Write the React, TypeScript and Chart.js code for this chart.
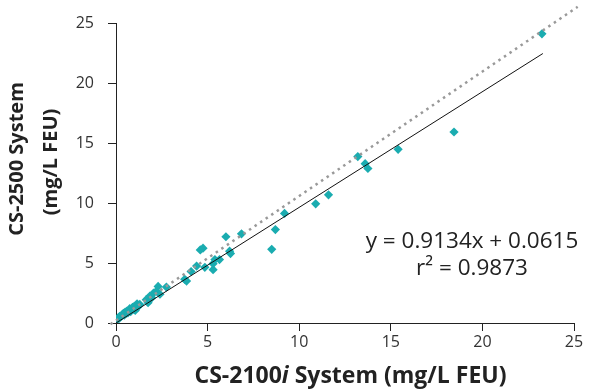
import React, { useEffect, useRef } from "react";
import { Chart, registerables } from "chart.js";

Chart.register(...registerables);

const xValues = [
  0.05, 0.1, 0.15, 0.2, 0.25, 0.3, 0.35, 0.4, 0.45, 0.5, 0.55, 0.6, 0.65, 0.7, 0.75, 0.8, 0.85, 0.9, 0.95, 1.0,
  1.05, 1.1, 1.15, 1.2, 1.3, 1.65, 1.75, 1.85, 1.95, 2.05, 2.2, 2.3, 2.4, 2.75, 3.75, 3.85, 4.1, 4.4, 4.6, 4.75,
  4.85, 5.3, 5.3, 5.4, 5.65, 6.0, 6.2, 6.25, 6.85, 8.5, 8.7, 9.2, 10.9, 11.6, 13.2, 13.6, 13.75, 15.4, 18.45, 23.25,
];
const yValues = [
  0.3, 0.4, 0.35, 0.55, 0.5, 0.6, 0.7, 0.8, 0.65, 0.9, 0.8, 1.0, 0.85, 1.05, 1.2, 0.95, 1.1, 1.3, 1.15, 1.4,
  1.05, 1.25, 1.6, 1.35, 1.55, 1.95, 1.7, 2.25, 2.1, 2.5, 2.65, 3.05, 2.4, 3.0, 3.65, 3.5, 4.3, 4.75, 6.1, 6.25,
  4.65, 4.45, 4.95, 5.3, 5.3, 7.2, 6.0, 5.8, 7.45, 6.15, 7.8, 9.15, 9.95, 10.7, 13.9, 13.3, 12.9, 14.5, 15.95, 24.15,
];
const fitX = [0, 23.3];
const fitY = [0.0, 22.5];
const refX = [-0.3, 25.2];
const refY = [-0.1, 26.4];
const axisMin = 0;
const axisMax = 25;
const axisStep = 5;
const equationText = "y = 0.9134x + 0.0615";
const r2Text = "r² = 0.9873";
const xTitleParts = ["CS-2100", "i", " System (mg/L FEU)"];
const yTitleLines = ["CS-2500 System", "(mg/L FEU)"];

const FONT = "'Open Sans', 'Noto Sans', sans-serif";
const TEXT = "#222";

const textPlugin = {
  id: "textPlugin",
  afterDraw(chart: any) {
    const ctx = chart.ctx as CanvasRenderingContext2D;
    ctx.save();
    ctx.fillStyle = TEXT;
    // annotation
    ctx.font = `22.5px ${FONT}`;
    ctx.textAlign = "center";
    ctx.textBaseline = "alphabetic";
    ctx.fillText(equationText, 472, 248);
    ctx.fillText(r2Text, 472, 275);
    // x title
    const fonts = [`bold 23px ${FONT}`, `italic bold 23px ${FONT}`, `bold 23px ${FONT}`];
    let total = 0;
    const widths = xTitleParts.map((p, i) => {
      ctx.font = fonts[i];
      const w = ctx.measureText(p).width;
      total += w;
      return w;
    });
    let x = 350.5 - total / 2;
    ctx.textAlign = "left";
    ctx.textBaseline = "alphabetic";
    xTitleParts.forEach((p, i) => {
      ctx.font = fonts[i];
      ctx.fillText(p, x, 383);
      x += widths[i];
    });
    // y title
    ctx.font = `bold 20px ${FONT}`;
    ctx.textAlign = "center";
    ctx.textBaseline = "alphabetic";
    ctx.save();
    ctx.translate(23, 159);
    ctx.rotate(-Math.PI / 2);
    ctx.fillText(yTitleLines[0], 0, 0);
    ctx.restore();
    ctx.save();
    ctx.translate(57, 162);
    ctx.rotate(-Math.PI / 2);
    ctx.fillText(yTitleLines[1], 0, 0);
    ctx.restore();
    ctx.restore();
  },
};

export default function App() {
  const ref = useRef<HTMLCanvasElement>(null);
  useEffect(() => {
    document.body.style.margin = "0";
    const canvas = ref.current!;
    const points = xValues.map((x, i) => ({ x, y: yValues[i] }));
    const fit = fitX.map((x, i) => ({ x, y: fitY[i] }));
    const refLine = refX.map((x, i) => ({ x, y: refY[i] }));
    const axisCommon = (isX: boolean) => ({
      type: "linear" as const,
      min: axisMin,
      max: axisMax,
      ticks: {
        stepSize: axisStep,
        color: "#333",
        font: { family: FONT, size: 16 },
        padding: isX ? 2 : 14,
      },
      grid: {
        display: true,
        drawOnChartArea: false,
        drawTicks: true,
        tickLength: 8,
        color: "#222",
        lineWidth: 1,
      },
      border: { display: true, color: "#222", width: 1 },
      title: { display: false },
      afterFit(scale: any) {
        if (isX) scale.height = 66;
        else scale.width = 116;
      },
    });
    const chart = new Chart(canvas, {
      type: "scatter",
      data: {
        datasets: [
          {
            type: "line",
            data: refLine,
            borderColor: "#999",
            borderWidth: 2.5,
            borderDash: [2.5, 4.2],
            pointRadius: 0,
            fill: false,
            clip: false as any,
            order: 1,
          } as any,
          {
            type: "line",
            data: fit,
            borderColor: "#111",
            borderWidth: 1,
            pointRadius: 0,
            fill: false,
            order: 2,
          } as any,
          {
            data: points,
            pointStyle: "rectRot",
            pointRadius: 4.6,
            pointHoverRadius: 4.6,
            backgroundColor: "#1aacb0",
            borderWidth: 0,
            order: 3,
          } as any,
        ],
      },
      options: {
        animation: false,
        responsive: false,
        maintainAspectRatio: false,
        layout: { padding: { left: 0, top: 23, right: 15, bottom: 0 } },
        plugins: { legend: { display: false }, tooltip: { enabled: false } },
        scales: { x: axisCommon(true), y: axisCommon(false) } as any,
      },
      plugins: [textPlugin],
    });
    return () => chart.destroy();
  }, []);
  return (
    <div style={{ position: "absolute", left: 0, top: 0, width: 589, height: 389, background: "#fff" }}>
      <canvas ref={ref} width={589} height={389} style={{ display: "block", width: 589, height: 389 }} />
    </div>
  );
}
